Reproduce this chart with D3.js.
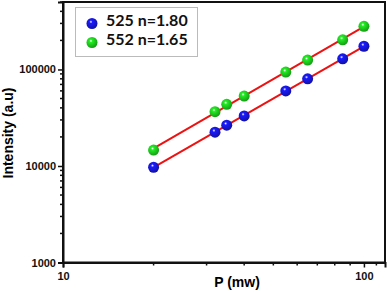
<!DOCTYPE html>
<html>
<head>
<meta charset="utf-8">
<script src="https://cdn.jsdelivr.net/npm/d3@7"></script>
<style>
  body { margin: 0; background: #fff; }
  svg { display: block; font-family: "Liberation Sans", Arial, sans-serif; }
</style>
</head>
<body>
<svg id="chart" width="390" height="292"></svg>
<script>
// power (mW) for each measurement
var power = [20, 32, 35, 40, 55, 65, 85, 100];
// intensities
var int525 = [9700, 22400, 26500, 33000, 60000, 80000, 129000, 174000];
var int552 = [14600, 36500, 43500, 53000, 94000, 125000, 203000, 280000];
var seriesNames = ["525 n=1.80", "552 n=1.65"];
var seriesColors = ["#1a1aff", "#22ee22"];
var xTickLabels = [10, 100];
var yTickLabels = [1000, 10000, 100000];

var svg = d3.select("#chart");
var plotLeft = 63, plotRight = 385, plotTop = 2, plotBottom = 262.5;

var x = d3.scaleLog().domain([10, 117.5]).range([plotLeft, plotRight]);
var y = d3.scaleLog().domain([1000, 500000]).range([plotBottom, plotTop]);

// gradients for the shaded balls
var defs = svg.append("defs");
seriesColors.forEach(function(c, i) {
  var g = defs.append("radialGradient")
    .attr("id", "ball" + i)
    .attr("cx", "40%").attr("cy", "35%").attr("r", "65%");
  g.append("stop").attr("offset", "0%").attr("stop-color", "#ffffff");
  g.append("stop").attr("offset", "22%").attr("stop-color", c);
  g.append("stop").attr("offset", "100%").attr("stop-color", d3.color(c).darker(1.2));
});

// frame
svg.append("rect")
  .attr("x", plotLeft).attr("y", plotTop)
  .attr("width", plotRight - plotLeft).attr("height", plotBottom - plotTop)
  .attr("fill", "none").attr("stroke", "#111").attr("stroke-width", 2);

// minor ticks
var xMinor = d3.range(2, 10).map(function(d) { return d * 10; }).concat([110]);
svg.selectAll(".xminor").data(xMinor).enter().append("line")
  .attr("x1", function(d) { return x(d); }).attr("x2", function(d) { return x(d); })
  .attr("y1", plotBottom).attr("y2", plotBottom + 3)
  .attr("stroke", "#111").attr("stroke-width", 1.5);

var yMinor = [];
[1000, 10000, 100000].forEach(function(b) {
  d3.range(2, 10).forEach(function(m) { if (b * m <= 500000) yMinor.push(b * m); });
});
svg.selectAll(".yminor").data(yMinor).enter().append("line")
  .attr("x1", plotLeft - 3).attr("x2", plotLeft)
  .attr("y1", function(d) { return y(d); }).attr("y2", function(d) { return y(d); })
  .attr("stroke", "#111").attr("stroke-width", 1.5);

// axes
var xAxis = svg.append("g")
  .attr("transform", "translate(0," + plotBottom + ")")
  .call(d3.axisBottom(x).tickValues(xTickLabels).tickFormat(d3.format("d")).tickSize(5).tickPadding(5));
var yAxis = svg.append("g")
  .attr("transform", "translate(" + plotLeft + ",0)")
  .call(d3.axisLeft(y).tickValues(yTickLabels).tickFormat(d3.format("d")).tickSize(5).tickPadding(2));
[xAxis, yAxis].forEach(function(a) {
  a.select(".domain").attr("stroke", "#111").attr("stroke-width", 2);
  a.selectAll(".tick line").attr("stroke", "#111").attr("stroke-width", 1.5);
  a.selectAll(".tick text").attr("fill", "#111")
    .style("font-size", "11px").style("font-weight", "bold")
    .style("font-family", "Liberation Sans, Arial, sans-serif");
});

// axis titles
svg.append("text")
  .attr("x", 237).attr("y", 287)
  .attr("text-anchor", "middle")
  .style("font-size", "14px").style("font-weight", "bold")
  .text("P (mw)");
svg.append("text")
  .attr("transform", "translate(13,133) rotate(-90)")
  .attr("text-anchor", "middle")
  .style("font-size", "14px").style("font-weight", "bold")
  .text("Intensity (a.u)");

// least squares fit in log space
function fit(xs, ys) {
  var lx = xs.map(Math.log10), ly = ys.map(Math.log10);
  var mx = d3.mean(lx), my = d3.mean(ly);
  var num = d3.sum(lx, function(d, i) { return (d - mx) * (ly[i] - my); });
  var den = d3.sum(lx, function(d) { return (d - mx) * (d - mx); });
  var b = num / den, a = my - b * mx;
  return function(v) { return Math.pow(10, a + b * Math.log10(v)); };
}

var series = [int525, int552];
series.forEach(function(vals, i) {
  var f = fit(power, vals);
  var xs = [power[0], power[power.length - 1]];
  svg.append("path")
    .datum(xs)
    .attr("fill", "none").attr("stroke", "#ee1111").attr("stroke-width", 2)
    .attr("d", d3.line().x(function(d) { return x(d); }).y(function(d) { return y(f(d)); }));
});

series.forEach(function(vals, i) {
  svg.selectAll(".pt" + i).data(vals).enter().append("circle")
    .attr("cx", function(d, j) { return x(power[j]); })
    .attr("cy", function(d) { return y(d); })
    .attr("r", 5.5)
    .attr("fill", "url(#ball" + i + ")");
});

// legend
var lg = svg.append("g");
lg.append("rect")
  .attr("x", 75.5).attr("y", 7.5).attr("width", 122).attr("height", 49)
  .attr("fill", "#fff").attr("stroke", "#bbb").attr("stroke-width", 1);
seriesNames.forEach(function(n, i) {
  lg.append("circle").attr("cx", 92).attr("cy", 23.5 + i * 19).attr("r", 5.5)
    .attr("fill", "url(#ball" + i + ")");
  lg.append("text").attr("x", 106).attr("y", 25.5 + i * 19.5)
    .style("font-size", "16px").style("font-weight", "bold")
    .style("font-family", "Lato, sans-serif")
    .attr("fill", "#111")
    .text(n);
});
</script>
</body>
</html>
